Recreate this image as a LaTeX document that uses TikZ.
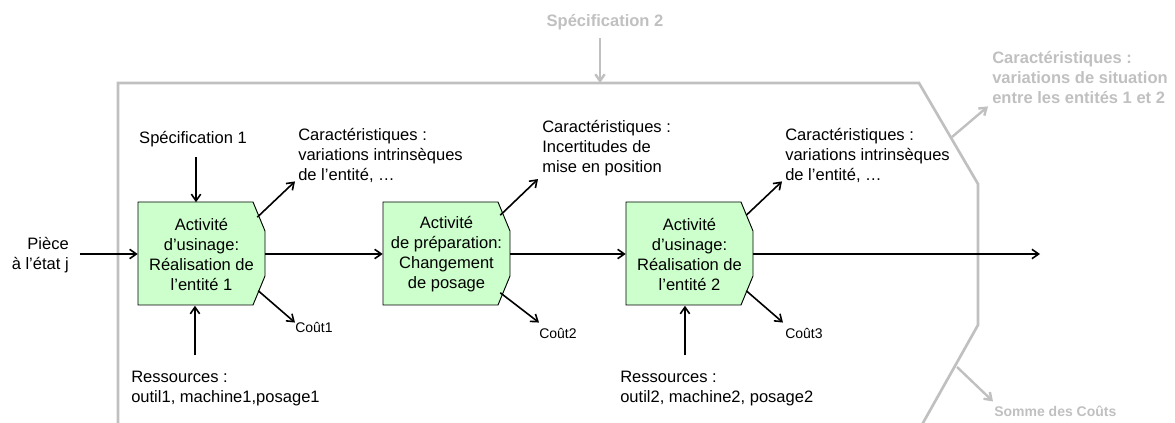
\documentclass[tikz,border=0pt]{standalone}
\usepackage{fontspec}
\setmainfont{Liberation Sans}
\usetikzlibrary{arrows.meta, positioning, calc}
\definecolor{framegray}{RGB}{192,192,192}
\definecolor{actgreen}{RGB}{204,255,204}

\begin{document}
\begin{tikzpicture}[
    x=0.75pt, y=-0.75pt,
    every node/.style={font=\fontsize{12.4}{15}\selectfont, inner sep=0pt},
    flow/.style={-{Straight Barb[length=5pt,width=7pt]}, line width=1.2pt},
    grayflow/.style={flow, draw=framegray, line width=1.8pt},
    actbox/.style={draw=black, fill=actgreen, line width=0.7pt},
    act/.style={minimum width=95.25pt, minimum height=77.25pt, align=center},
    lbl/.style={anchor=west, align=left},
    cost/.style={anchor=west, font=\fontsize{10.5}{12}\selectfont},
    note/.style={anchor=west, align=left, text=framegray, font=\fontsize{12.4}{15}\selectfont\bfseries},
]
  \useasboundingbox (0,0) rectangle (1175,423);

  % Frame of the whole operation
  \draw[framegray, line width=2pt] (118,430) -- (118,83) -- (919,83) -- (978,184) -- (978,325) -- (919,430);
  \coordinate (top) at (600,83);
  \coordinate (fr1) at (952,137);
  \coordinate (fr2) at (957,367);
  \coordinate (out) at (1040,254);

  % Activity boxes
  \foreach \x in {138,383,626}
    \filldraw[actbox] (\x,202) -- ++(115,0) -- ++(12,29) -- ++(0,45) -- ++(-12,29) -- ++(-115,0) -- cycle;
  \node[act] (act1) at (201.5,254) {Activité\\d’usinage:\\Réalisation de\\l’entité 1};
  \node[act] (act2) at (446.5,254) {Activité\\de préparation:\\Changement\\de posage};
  \node[act] (act3) at (689.5,254) {Activité\\d’usinage:\\Réalisation de\\l’entité 2};

  % Labels
  \node[anchor=east, align=right] (piece) at (69,255) {Pièce\\à l’état j};
  \node (spec1) at (193,139) {Spécification 1};
  \node[lbl] (res1) at (131,389) {Ressources :\\outil1, machine1,posage1};
  \node[lbl] (res2) at (620,389) {Ressources :\\outil2, machine2, posage2};
  \node[lbl] (car1) at (298,155) {Caractéristiques :\\variations intrinsèques\\de l’entité, …};
  \node[lbl] (car2) at (542,148) {Caractéristiques :\\Incertitudes de\\mise en position};
  \node[lbl] (car3) at (785,155) {Caractéristiques :\\variations intrinsèques\\de l’entité, …};
  \node[cost] (cout1) at (295,327) {Coût1};
  \node[cost] (cout2) at (539,333) {Coût2};
  \node[cost] (cout3) at (785,333) {Coût3};

  % Gray labels of the whole operation
  \node[note, anchor=center] (spec2) at (605,22) {Spécification 2};
  \node[note] (carg) at (992,78) {Caractéristiques :\\variations de situation\\entre les entités 1 et 2};
  \node[note, font=\fontsize{10.5}{12}\selectfont\bfseries] (somme) at (994,411) {Somme des Coûts};

  % Main flow
  \draw[flow] ([xshift=8pt]piece.east |- act1.west) -- (act1.west);
  \draw[flow] (act1.east) -- (act2.west);
  \draw[flow] (act2.east) -- (act3.west);
  \draw[flow] (act3.east) -- (out);

  % Inputs
  \draw[flow, shorten <=7.5pt] ([xshift=-4.1pt]act1.north |- spec1.south) -- ([xshift=-4.1pt]act1.north);
  \draw[flow, shorten <=12pt] ([xshift=-4.9pt]act1.south |- res1.north) -- ([xshift=-4.9pt]act1.south);
  \draw[flow, shorten <=12pt] ([xshift=-3.4pt]act3.south |- res2.north) -- ([xshift=-3.4pt]act3.south);

  % Outputs
  \draw[flow] ($(act1.north east)+(-8,15)$) -- ($(car1.south west)+(-3,-1)$);
  \draw[flow] ($(act2.north east)+(-10,13)$) -- ($(car2.south west)+(-4,3)$);
  \draw[flow] ($(act3.north east)+(-7,13)$) -- ($(car3.south west)+(-3,-1)$);
  \draw[flow] ($(act1.south east)+(-7,-15)$) -- ($(cout1.north west)+(0,1)$);
  \draw[flow] ($(act2.south east)+(-10,-13)$) -- ($(cout2.north west)+(0,-5)$);
  \draw[flow] ($(act3.south east)+(-7,-15)$) -- ($(cout3.north west)+(-2,-5)$);

  % Gray arrows
  \draw[grayflow, shorten <=6pt] (spec2.south -| top) -- (top);
  \draw[grayflow] (fr1) -- ($(carg.south west)+(-4,2)$);
  \draw[grayflow] (fr2) -- ($(somme.north west)+(-1,-4)$);
\end{tikzpicture}
\end{document}
